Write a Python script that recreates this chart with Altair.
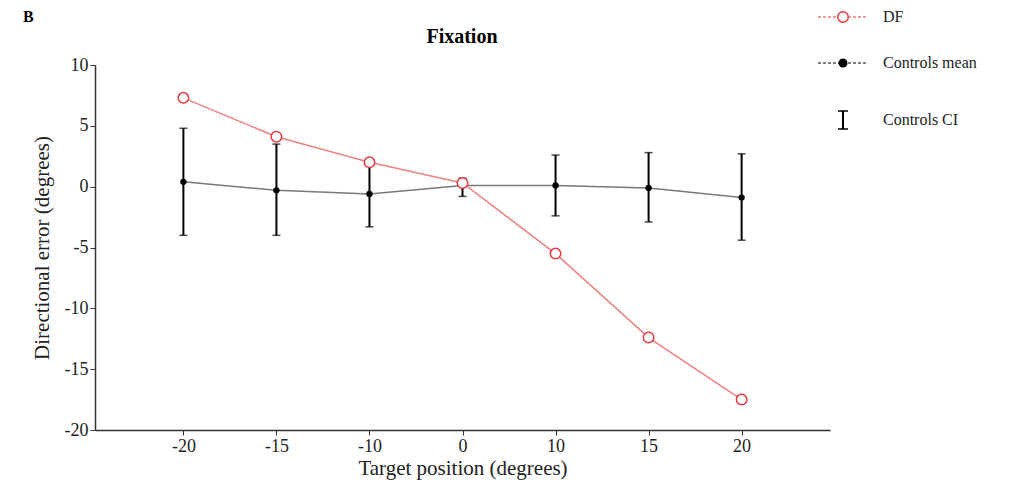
import pandas as pd
import altair as alt

positions = ["-20", "-15", "-10", "0", "10", "15", "20"]
df_error = [7.3, 4.1, 2.0, 0.3, -5.5, -12.4, -17.5]
ctrl_mean = [0.4, -0.3, -0.6, 0.1, 0.1, -0.1, -0.9]
ctrl_hi = [4.8, 3.5, 1.8, 0.7, 2.6, 2.8, 2.7]
ctrl_lo = [-4.0, -4.0, -3.3, -0.8, -2.4, -2.9, -4.4]

data = pd.DataFrame({"pos": positions, "df": df_error, "mean": ctrl_mean,
                     "hi": ctrl_hi, "lo": ctrl_lo})

FONT = "Liberation Serif"
x = alt.X("pos:N", sort=positions, scale=alt.Scale(type="point", padding=0.95),
          axis=alt.Axis(title="Target position (degrees)", labelAngle=0, titlePadding=2))
yscale = alt.Scale(domain=[-20, 10], nice=False)
base = alt.Chart(data)

bars = base.mark_rule(color="black", strokeWidth=2).encode(
    x=x, y=alt.Y("lo:Q", scale=yscale, title="Directional error (degrees)",
                 axis=alt.Axis(values=[-20, -15, -10, -5, 0, 5, 10], grid=False,
                               format="d", titlePadding=12,
                               labelExpr="replace(datum.label, '−', '-')")),
    y2="hi:Q")
caps_hi = base.mark_tick(color="black", size=8, thickness=1.5, orient="horizontal").encode(
    x=x, y=alt.Y("hi:Q", scale=yscale))
caps_lo = base.mark_tick(color="black", size=8, thickness=1.5, orient="horizontal").encode(
    x=x, y=alt.Y("lo:Q", scale=yscale))
mean_line = base.mark_line(color="#777777", strokeWidth=1.5).encode(
    x=x, y=alt.Y("mean:Q", scale=yscale))
mean_pts = base.mark_point(color="black", filled=True, size=40, opacity=1).encode(
    x=x, y=alt.Y("mean:Q", scale=yscale))
df_line = base.mark_line(color="#f08080", strokeWidth=1.5).encode(
    x=x, y=alt.Y("df:Q", scale=yscale))
df_pts = base.mark_point(color="#e8383d", fill="white", filled=False, size=110,
                         strokeWidth=1.5, opacity=1).encode(
    x=x, y=alt.Y("df:Q", scale=yscale))

# legend drawn beside the plot
leg_labels = ["DF", "Controls mean", "Controls CI"]
leg = pd.DataFrame({"label": leg_labels, "row": [0, 1, 2]})
lb = alt.Chart(leg)
ly = {0: -48, 1: -2, 2: 55}
LX = 748
leg_layers = []
for i, col in enumerate(["#e8383d", "black"]):
    leg_layers.append(lb.transform_filter(f"datum.row == {i}").mark_rule(
        color=col, strokeDash=[3, 2], strokeWidth=1).encode(
        x=alt.value(LX - 25), x2=alt.value(LX + 25), y=alt.value(ly[i])))
leg_layers.append(lb.transform_filter("datum.row == 0").mark_point(
    color="#e8383d", size=110, strokeWidth=1.5, fill="white", filled=False, opacity=1).encode(
    x=alt.value(LX), y=alt.value(ly[0])))
leg_layers.append(lb.transform_filter("datum.row == 1").mark_point(
    color="black", filled=True, size=80, opacity=1).encode(
    x=alt.value(LX), y=alt.value(ly[1])))
leg_layers.append(lb.transform_filter("datum.row == 2").mark_rule(
    color="black", strokeWidth=2).encode(
    x=alt.value(LX), y=alt.value(ly[2] - 9), y2=alt.value(ly[2] + 9)))
for d in (-9, 9):
    leg_layers.append(lb.transform_filter("datum.row == 2").mark_rule(
        color="black", strokeWidth=1.5).encode(
        x=alt.value(LX - 5), x2=alt.value(LX + 5), y=alt.value(ly[2] + d)))
text_layers = [lb.transform_filter(f"datum.row == {i}").mark_text(
    align="left", baseline="middle", font=FONT, fontSize=16, color="#222").encode(
    x=alt.value(LX + 40), y=alt.value(ly[i]), text="label:N") for i in range(3)]

panel = lb.transform_filter("datum.row == 0").mark_text(
    font=FONT, fontSize=16, fontWeight="bold", align="left").encode(
    x=alt.value(-72), y=alt.value(-48), text=alt.value("B"))

title = lb.transform_filter("datum.row == 0").mark_text(
    font=FONT, fontSize=20, fontWeight="bold", align="center").encode(
    x=alt.value(367), y=alt.value(-28), text=alt.value("Fixation"))

chart = alt.layer(bars, caps_hi, caps_lo, mean_line, mean_pts, df_line, df_pts,
                  *leg_layers, *text_layers, panel, title).properties(
    width=735, height=365,
    padding={"left": 87, "top": 57, "right": 196, "bottom": 55},
    autosize=alt.AutoSizeParams(type="none"),
).configure_view(stroke=None).configure_axis(
    labelFont=FONT, titleFont=FONT, labelFontSize=18, titleFontSize=21,
    labelColor="#222", titleColor="#222", domainColor="#333", tickColor="#333",
    titleFontWeight="normal", domainWidth=1.5)

chart.save("out.html", embed_options={"renderer": "svg", "actions": False})
